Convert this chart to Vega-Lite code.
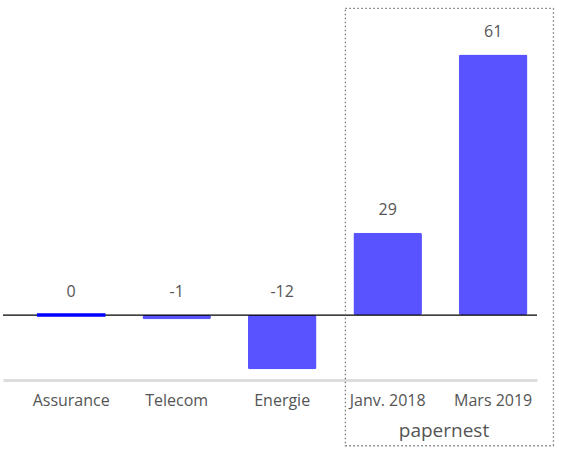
{
  "$schema": "https://vega.github.io/schema/vega-lite/v6.json",
  "width": 534,
  "height": 375,
  "autosize": "none",
  "padding": {"left": 3, "top": 5, "right": 35, "bottom": 76},
  "config": {
    "view": {"stroke": null},
    "font": "Open Sans",
    "text": {"font": "Open Sans"}
  },
  "data": {
    "values": [
      {"category": "Assurance", "value": 0, "height": 0},
      {"category": "Telecom", "value": -1, "height": -1},
      {"category": "Energie", "value": -12, "height": -12.7},
      {"category": "Janv. 2018", "value": 29, "height": 19.3},
      {"category": "Mars 2019", "value": 61, "height": 61}
    ]
  },
  "layer": [
    {
      "mark": {"type": "bar", "color": "#5853ff", "cornerRadius": 2},
      "encoding": {
        "x": {
          "field": "category",
          "type": "nominal",
          "sort": null,
          "title": null,
          "scale": {"paddingInner": 0.35, "paddingOuter": 0.206, "align": 0.78},
          "axis": {
            "orient": "bottom",
            "domainColor": "#dddddd",
            "domainWidth": 3,
            "ticks": false,
            "labelAngle": 0,
            "labelFontSize": 16,
            "labelColor": "#555555",
            "labelPadding": 12,
            "labelFont": "Open Sans"
          }
        },
        "y": {
          "field": "height",
          "type": "quantitative",
          "scale": {"domain": [-15.2, 72.6], "nice": false, "zero": false},
          "axis": null
        }
      }
    },
    {
      "data": {"values": [{"zero": 0}]},
      "mark": {"type": "rule", "color": "#000000", "strokeWidth": 1.2},
      "encoding": {"y": {"field": "zero", "type": "quantitative"}}
    },
    {
      "transform": [{"filter": "datum.height === 0"}],
      "mark": {"type": "bar", "color": "#0000ff", "stroke": "#0000ff", "strokeWidth": 3.5},
      "encoding": {
        "x": {"field": "category", "type": "nominal", "sort": null},
        "y": {"field": "height", "type": "quantitative"}
      }
    },
    {
      "transform": [{"filter": "datum.height >= 0"}],
      "mark": {"type": "text", "dy": -23, "fontSize": 16, "color": "#555555", "baseline": "middle"},
      "encoding": {
        "x": {"field": "category", "type": "nominal", "sort": null},
        "y": {"field": "height", "type": "quantitative"},
        "text": {"field": "value", "type": "nominal"}
      }
    },
    {
      "transform": [{"filter": "datum.height < 0"}],
      "mark": {"type": "text", "dy": -23, "fontSize": 16, "color": "#555555", "baseline": "middle"},
      "encoding": {
        "x": {"field": "category", "type": "nominal", "sort": null},
        "y": {"datum": 0, "type": "quantitative"},
        "text": {"field": "value", "type": "nominal"}
      }
    },
    {
      "data": {"values": [{"group": "papernest"}]},
      "mark": {
        "type": "rect",
        "fill": null,
        "stroke": "#777777",
        "strokeWidth": 1.3,
        "strokeDash": [1.5, 2.5],
        "xOffset": -8,
        "x2Offset": 26
      },
      "encoding": {
        "x": {"datum": "Janv. 2018", "bandPosition": 0},
        "x2": {"datum": "Mars 2019", "bandPosition": 1},
        "y": {"datum": 71.8, "type": "quantitative"},
        "y2": {"datum": -30.6}
      }
    },
    {
      "data": {"values": [{"group": "papernest"}]},
      "mark": {"type": "text", "fontSize": 19, "color": "#555555", "baseline": "middle", "dx": 22},
      "encoding": {
        "x": {"datum": "Janv. 2018", "bandPosition": 1},
        "y": {"datum": -27.1, "type": "quantitative"},
        "text": {"field": "group", "type": "nominal"}
      }
    }
  ]
}
